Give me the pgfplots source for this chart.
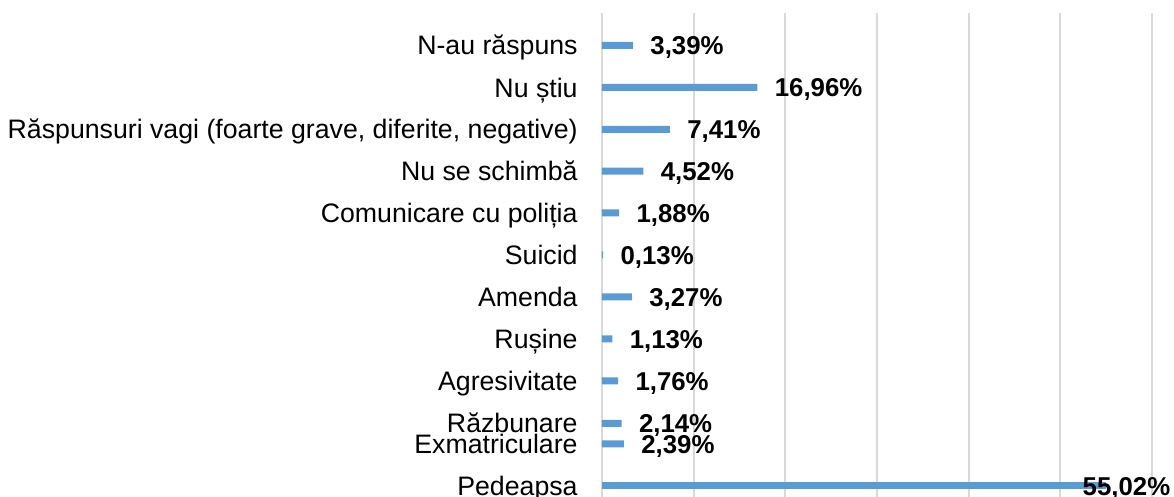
\documentclass[border=0pt]{standalone}
\usepackage{pgfplots}
\pgfplotsset{compat=1.18}
\usepackage{fontspec}
\setmainfont{Liberation Sans}
\definecolor{barblue}{HTML}{5B9BD5}
\definecolor{gridgray}{HTML}{D9D9D9}
\pgfplotstableread{
x y
3.39 45.3
16.96 87.5
7.41 129.3
4.52 171.2
1.88 213
0.13 255
3.27 297
1.13 339
1.76 381
2.14 423.3
2.39 444
}\mainbars
\pgfplotstableread{
x y
55.02 486
}\lastbar
\begin{document}
\begin{tikzpicture}
\begin{axis}[
  at={(301pt,0pt)}, anchor=south west,
  scale only axis, width=275pt, height=242pt,
  xmin=0, xmax=60, ymin=13, ymax=497, y dir=reverse,
  xtick={0,10,...,60}, xticklabels={},
  xmajorgrids, grid style={gridgray, line width=0.9pt},
  axis line style={draw=none},
  major tick length=0pt,
  ytick={45.3,87.5,129.3,171.2,213,255,297,339,381,423.3,444,486},
  yticklabels={N-au răspuns, Nu știu, {Răspunsuri vagi (foarte grave, diferite, negative)}, Nu se schimbă, Comunicare cu poliția, Suicid, Amenda, Rușine, Agresivitate, Răzbunare, Exmatriculare, Pedeapsa},
  yticklabel style={font=\fontsize{13.35}{15}\selectfont, inner sep=0pt, anchor=base east, xshift=-12pt, yshift=-4.8pt},
  clip=false,
]
\addplot[xbar, bar width=7, bar shift=0pt, fill=barblue, draw=none,
  point meta=x,
  nodes near coords={\pgfmathprintnumber[fixed, fixed zerofill, precision=2, use comma, assume math mode=true]{\pgfplotspointmeta}\%},
  nodes near coords style={font=\fontsize{12.9}{15}\selectfont\bfseries, anchor=base west, inner sep=0pt, xshift=8.5pt, yshift=-4.6pt, black}]
  table[x=x, y=y] {\mainbars};
\addplot[xbar, bar width=7, bar shift=0pt, fill=barblue, draw=none,
  point meta=x,
  nodes near coords={\pgfmathprintnumber[fixed, fixed zerofill, precision=2, use comma, assume math mode=true]{\pgfplotspointmeta}\%},
  nodes near coords style={font=\fontsize{12.9}{15}\selectfont\bfseries, anchor=base west, inner sep=0pt, xshift=-12pt, yshift=-4.6pt, black}]
  table[x=x, y=y] {\lastbar};
\end{axis}
\pgfresetboundingbox
\useasboundingbox (0,0) rectangle (587pt,248.5pt);
\end{tikzpicture}
\end{document}
